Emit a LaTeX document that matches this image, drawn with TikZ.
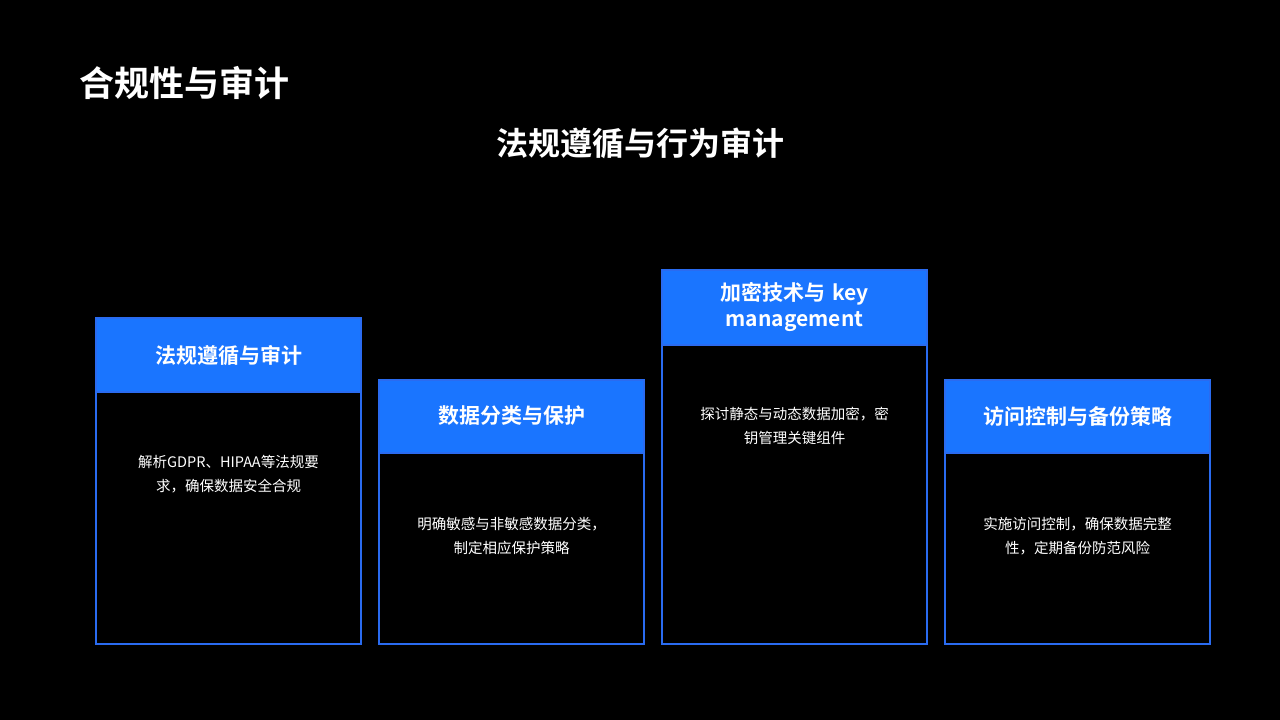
\documentclass[tikz,border=0pt]{standalone}
\usepackage{fontspec}
\newfontfamily\cjk{Noto Sans CJK SC}
\newfontfamily\cjkb{Noto Sans CJK SC Bold}
\definecolor{hb}{HTML}{1A75FF}
\definecolor{bd}{HTML}{2A6BF0}
\tikzset{
 hdr/.style={fill=hb,draw=bd,line width=1.5pt},
 bodyb/.style={draw=bd,line width=1.5pt},
 htxt/.style={text=white,font=\cjkb\fontsize{21}{26}\selectfont,align=center,text width=250pt},
 btxt/.style={text=white,font=\cjk\fontsize{14.5}{24}\selectfont,align=center},
}
\begin{document}
\begin{tikzpicture}[x=1pt,y=-1pt]
\fill[black] (0,0) rectangle (1280,720);
\node[anchor=west,text=white,font=\cjkb\fontsize{35}{40}\selectfont] (t) at (76,83) {合规性与审计};
\node[text=white,font=\cjkb\fontsize{32}{36}\selectfont] (st) at (640,143) {法规遵循与行为审计};
% box1
\draw[bodyb] (96,392) rectangle (361,644);
\draw[hdr] (96,318) rectangle (361,392);
\node[htxt] (h1) at (228.5,356) {法规遵循与审计};
\node[btxt] (b1) at (228.5,474) {解析GDPR、HIPAA等法规要\\求，确保数据安全合规};
% box2
\draw[bodyb] (379,453) rectangle (644,644);
\draw[hdr] (379,380) rectangle (644,453);
\node[htxt] (h2) at (511.5,416) {数据分类与保护};
\node[btxt] (b2) at (511.5,536) {明确敏感与非敏感数据分类，\\制定相应保护策略};
% box3
\draw[bodyb] (662,345) rectangle (927,644);
\draw[hdr] (662,270) rectangle (927,345);
\node[htxt] (h3) at (794.5,307) {加密技术与 key\\management};
\node[btxt] (b3) at (794.5,426) {探讨静态与动态数据加密，密\\钥管理关键组件};
% box4
\draw[bodyb] (945,453) rectangle (1210,644);
\draw[hdr] (945,380) rectangle (1210,453);
\node[htxt] (h4) at (1077.5,416) {访问控制与备份策略};
\node[btxt] (b4) at (1077.5,536) {实施访问控制，确保数据完整\\性，定期备份防范风险};
\end{tikzpicture}
\end{document}
